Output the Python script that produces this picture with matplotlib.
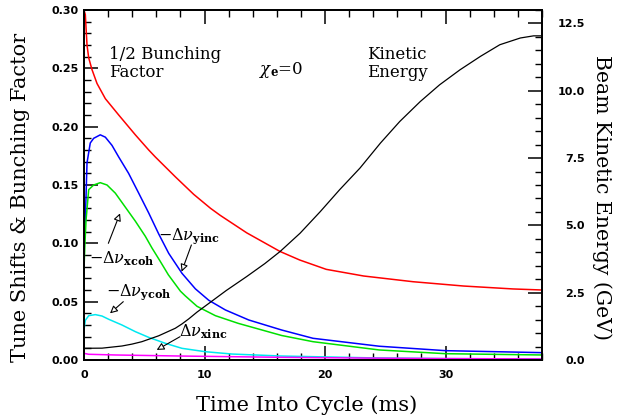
import matplotlib
matplotlib.use("Agg")
import matplotlib.pyplot as plt
from matplotlib.ticker import MultipleLocator

plt.rcParams['mathtext.fontset'] = 'dejavuserif'

# 1/2 bunching factor (red)
t_bunch = [0.0, 0.11, 0.17, 0.25, 0.39, 0.66, 1.08, 1.77, 2.88, 4.26, 5.37, 5.92, 7.58, 9.1, 10.5,
           11.3, 13.5, 16.27, 17.9, 20.1, 23.2, 27.3, 31.5, 35.6, 38.0]
bunch = [0.300, 0.296, 0.2846, 0.270, 0.259, 0.249, 0.237, 0.224, 0.210, 0.193, 0.180, 0.174, 0.157,
         0.142, 0.130, 0.124, 0.109, 0.093, 0.0857, 0.0777, 0.072, 0.0671, 0.0634, 0.0609, 0.060]

# -dnu_yinc (blue)
t_yinc = [0.0, 0.11, 0.25, 0.52, 0.8, 1.35, 1.77, 2.32, 2.88, 3.7, 4.54, 5.37, 6.2, 7.03, 8.13,
          9.24, 10.35, 11.73, 13.67, 16.4, 19.0, 24.5, 30.0, 38.0]
yinc = [0.108, 0.120, 0.169, 0.186, 0.190, 0.193, 0.191, 0.184, 0.174, 0.160, 0.143, 0.126, 0.108,
        0.0914, 0.0743, 0.061, 0.0512, 0.0429, 0.0343, 0.0257, 0.0186, 0.0118, 0.008, 0.0063]

# -dnu_xcoh (green)
t_xcoh = [0.0, 0.08, 0.17, 0.39, 0.8, 1.35, 1.91, 2.6, 3.43, 4.26, 5.09, 5.64, 6.3, 7.0, 7.5, 8.0,
          8.4, 9.38, 10.9, 12.8, 16.4, 19.0, 24.5, 30.0, 38.0]
xcoh = [0.078, 0.100, 0.120, 0.146, 0.150, 0.152, 0.150, 0.143, 0.131, 0.119, 0.106, 0.096, 0.085,
        0.073, 0.066, 0.059, 0.055, 0.046, 0.038, 0.0314, 0.021, 0.0157, 0.0086, 0.0054, 0.0043]

# -dnu_ycoh (cyan)
t_ycoh = [0.0, 0.11, 0.39, 0.94, 1.49, 2.05, 3.15, 4.26, 5.37, 6.75, 8.13, 10.07, 12.3, 16.4,
          24.0, 30.0, 38.0]
ycoh = [0.0257, 0.034, 0.038, 0.0389, 0.0377, 0.0349, 0.030, 0.0243, 0.0194, 0.0143, 0.010,
        0.0071, 0.0051, 0.0034, 0.0018, 0.0012, 0.0009]

# dnu_xinc (magenta)
t_xinc = [0.0, 0.39, 2.6, 8.0, 16.4, 24.0, 30.0, 38.0]
xinc = [0.0057, 0.0049, 0.0043, 0.0034, 0.0023, 0.0016, 0.0012, 0.0009]

# kinetic energy, GeV (black, right axis)
t_ke = [0.0, 1.5, 3.15, 3.98, 4.8, 6.2, 7.58, 8.13, 8.7, 9.38, 10.35, 11.8, 13.5, 15.0, 16.27,
        17.93, 19.6, 21.2, 22.9, 24.6, 26.2, 27.9, 29.5, 31.2, 32.9, 34.5, 36.2, 37.3, 38.0]
ke = [0.435, 0.44, 0.52, 0.59, 0.68, 0.90, 1.18, 1.34, 1.53, 1.78, 2.10, 2.58, 3.1, 3.58, 4.03,
      4.71, 5.51, 6.32, 7.13, 8.06, 8.86, 9.6, 10.22, 10.78, 11.28, 11.71, 11.96, 12.04, 12.04]

fig = plt.figure(figsize=(6.25, 4.19), dpi=100)
ax = fig.add_axes([84/625, 1-360/419, 458/625, 350/419])
ax2 = ax.twinx()

lw = 1.1
ax.plot(t_bunch, bunch, color='#ff0000', lw=lw)
ax.plot(t_yinc, yinc, color='#0000ff', lw=lw)
ax.plot(t_xcoh, xcoh, color='#00e000', lw=lw)
ax.plot(t_ycoh, ycoh, color='#00e8f0', lw=lw)
ax.plot(t_xinc, xinc, color='#ff00ff', lw=lw)
ax2.plot(t_ke, ke, color='black', lw=0.9)

ax.set_xlim(0, 38)
ax.set_ylim(0, 0.30)
ax2.set_ylim(0, 13.0)

ax.xaxis.set_major_locator(MultipleLocator(10))
ax.xaxis.set_minor_locator(MultipleLocator(2))
ax.yaxis.set_major_locator(MultipleLocator(0.05))
ax.yaxis.set_minor_locator(MultipleLocator(0.01))
ax2.yaxis.set_major_locator(MultipleLocator(2.5))
ax2.yaxis.set_minor_locator(MultipleLocator(0.5))
ax.yaxis.set_major_formatter(plt.FormatStrFormatter('%.2f'))
ax2.yaxis.set_major_formatter(plt.FormatStrFormatter('%.1f'))

tfont = dict(family='DejaVu Sans', weight='bold', size=8)
ax.tick_params(axis='x', which='both', direction='in', top=True, bottom=True, pad=7)
ax.tick_params(axis='y', which='both', direction='in', left=True, right=False, pad=4)
ax.tick_params(which='major', length=10, width=1.1)
ax.tick_params(which='minor', length=5, width=1.0)
ax2.tick_params(axis='y', which='major', direction='in', length=10, width=1.1, pad=31)
ax2.tick_params(axis='y', which='minor', direction='in', length=5, width=1.0)
for lab in ax.get_xticklabels() + ax.get_yticklabels():
    lab.set_fontproperties(tfont)
for lab in ax2.get_yticklabels():
    lab.set_fontproperties(tfont)
    lab.set_horizontalalignment('right')
for a in (ax, ax2):
    for s in a.spines.values():
        s.set_linewidth(1.3)

serif = 'DejaVu Serif'
fig.text(307/625, 1-405/419, 'Time Into Cycle (ms)', family=serif, size=15, ha='center', va='center')
fig.text(21/625, 1-197/419, 'Tune Shifts & Bunching Factor', family=serif, size=15,
         ha='center', va='center', rotation=90)
fig.text(602/625, 1-197/419, 'Beam Kinetic Energy (GeV)', family=serif, size=14.7,
         ha='center', va='center', rotation=-90)

ax.text(2.1, 0.254, '1/2 Bunching\nFactor', family=serif, size=12, ha='left', va='center', linespacing=1.05)
ax.text(14.5, 0.249, r'$\chi_{\mathbf{e}}$=0', family=serif, size=12, ha='left', va='center')
ax.text(23.5, 0.254, 'Kinetic\nEnergy', family=serif, size=12, ha='left', va='center', linespacing=1.05)

lsize = 11.5
ax.text(8.67, 0.106, r'$-\Delta\nu_{\mathbf{yinc}}$', size=lsize, ha='center', va='center')
ax.text(3.11, 0.0866, r'$-\Delta\nu_{\mathbf{xcoh}}$', size=lsize, ha='center', va='center')
ax.text(4.52, 0.0583, r'$-\Delta\nu_{\mathbf{ycoh}}$', size=lsize, ha='center', va='center')
ax.text(9.88, 0.024, r'$\Delta\nu_{\mathbf{xinc}}$', size=lsize, ha='center', va='center')

arrow = dict(arrowstyle='-|>', fc='white', ec='black', lw=0.8, mutation_scale=11, shrinkA=0, shrinkB=0)
ax.annotate('', xy=(8.10, 0.0757), xytext=(8.91, 0.0986), arrowprops=arrow)
ax.annotate('', xy=(2.99, 0.1257), xytext=(2.02, 0.100), arrowprops=arrow)
ax.annotate('', xy=(2.16, 0.040), xytext=(3.26, 0.050), arrowprops=arrow)
ax.annotate('', xy=(6.03, 0.0086), xytext=(7.97, 0.020), arrowprops=arrow)

fig.savefig('out.png', dpi=100)
